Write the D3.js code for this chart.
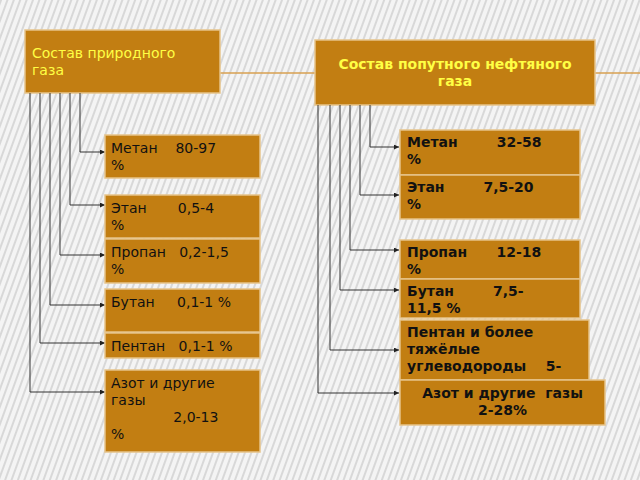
<!DOCTYPE html>
<html><head><meta charset="utf-8">
<script src="https://cdn.jsdelivr.net/npm/d3@7"></script>
<style>body{margin:0;background:#fff}svg{display:block}</style>
</head><body>
<svg id="c" width="640" height="480"></svg>
<script>
// natural gas components (left) and associated petroleum gas (right)
const leftLines = [["Метан    80-97", "%"], ["Этан       0,5-4", "%"], ["Пропан   0,2-1,5", "%"],
  ["Бутан     0,1-1 %"], ["Пентан   0,1-1 %"], ["Азот и другие", "газы", "              2,0-13", "%"]];
const leftBoxes = [[135, 178], [195, 238], [239, 283], [289, 332], [333, 358], [370, 452]];
const leftArrowY = [152, 205, 255, 305, 343, 392];
const leftStemX = [80, 70, 60, 50, 40, 30];

const rightLines = [["Метан        32-58", "%"], ["Этан        7,5-20", "%"], ["Пропан      12-18", "%"],
  ["Бутан        7,5-", "11,5 %"], ["Пентан и более", "тяжёлые", "углеводороды    5-"], ["Азот и другие  газы", "2-28%"]];
const rightBoxes = [[400, 580, 130, 175], [400, 580, 175, 219], [400, 580, 240, 279], [400, 580, 279, 318],
  [400, 589, 320, 380], [400, 605, 380, 425]];
const rightArrowY = [147, 195, 250, 290, 350, 393];
const rightStemX = [370, 360, 350, 340, 330, 318];

const svg = d3.select("#c");
const defs = svg.append("defs");
const pat = defs.append("pattern").attr("id", "st").attr("width", 6).attr("height", 6)
  .attr("patternUnits", "userSpaceOnUse").attr("patternTransform", "rotate(20)");
pat.append("rect").attr("width", 6).attr("height", 6).attr("fill", "#f4f4f4");
pat.append("rect").attr("width", 2).attr("height", 6).attr("fill", "#d8d8d8");
defs.append("marker").attr("id", "ar").attr("viewBox", "0 0 6 6").attr("refX", 6).attr("refY", 3)
  .attr("markerWidth", 5).attr("markerHeight", 5).attr("orient", "auto")
  .append("path").attr("d", "M0,0L6,3L0,6Z").attr("fill", "#222");

svg.append("rect").attr("width", 640).attr("height", 480).attr("fill", "url(#st)");

const orange = "#C27E12", edge = "#e6c48a";
// thin header line
svg.append("line").attr("x1", 220).attr("x2", 640).attr("y1", 73).attr("y2", 73).attr("stroke", "#d9a050").attr("stroke-width", 1.5);

function box(x0, y0, x1, y1) {
  svg.append("rect").attr("x", x0).attr("y", y0).attr("width", x1 - x0).attr("height", y1 - y0)
    .attr("fill", orange).attr("stroke", edge).attr("stroke-width", 1.5);
}
function lines(arr, x, y, bold, anchor) {
  const t = svg.append("text").attr("x", x).attr("y", y).attr("font-family", "DejaVu Sans")
    .attr("font-size", 14).attr("font-weight", bold ? "bold" : "normal").attr("fill", "#111")
    .attr("text-anchor", anchor || "start");
  arr.forEach((s, i) => t.append("tspan").attr("x", x).attr("dy", i ? 17 : 0).attr("xml:space", "preserve").text(s));
}
function conn(sx, topY, ay, endX) {
  svg.append("path").attr("d", `M${sx},${topY}V${ay}H${endX}`).attr("fill", "none")
    .attr("stroke", "#333").attr("stroke-width", 1).attr("marker-end", "url(#ar)");
}

// headers
box(25, 30, 220, 93);
svg.append("text").attr("font-family", "DejaVu Sans").attr("font-size", 14).attr("fill", "#ffff44")
  .selectAll("tspan").data(["Состав природного", "газа"]).join("tspan")
  .attr("x", 32).attr("y", (d, i) => 58 + i * 17).text(d => d);
box(315, 40, 595, 105);
svg.append("text").attr("font-family", "DejaVu Sans").attr("font-size", 14).attr("font-weight", "bold")
  .attr("fill", "#ffff44").attr("text-anchor", "middle")
  .selectAll("tspan").data(["Состав попутного нефтяного", "газа"]).join("tspan")
  .attr("x", 455).attr("y", (d, i) => 69 + i * 17).text(d => d);

// left
leftBoxes.forEach((b, i) => {
  conn(leftStemX[i], 93, leftArrowY[i], 105);
  box(105, b[0], 260, b[1]);
  lines(leftLines[i], 111, b[0] + 18, false);
});
// right
rightBoxes.forEach((b, i) => {
  conn(rightStemX[i], 105, rightArrowY[i], 399);
  box(b[0], b[2], b[1], b[3]);
  if (i === 5) lines(rightLines[i], (b[0] + b[1]) / 2, b[2] + 18, true, "middle");
  else lines(rightLines[i], b[0] + 7, b[2] + 17, true);
});
</script>
</body></html>
